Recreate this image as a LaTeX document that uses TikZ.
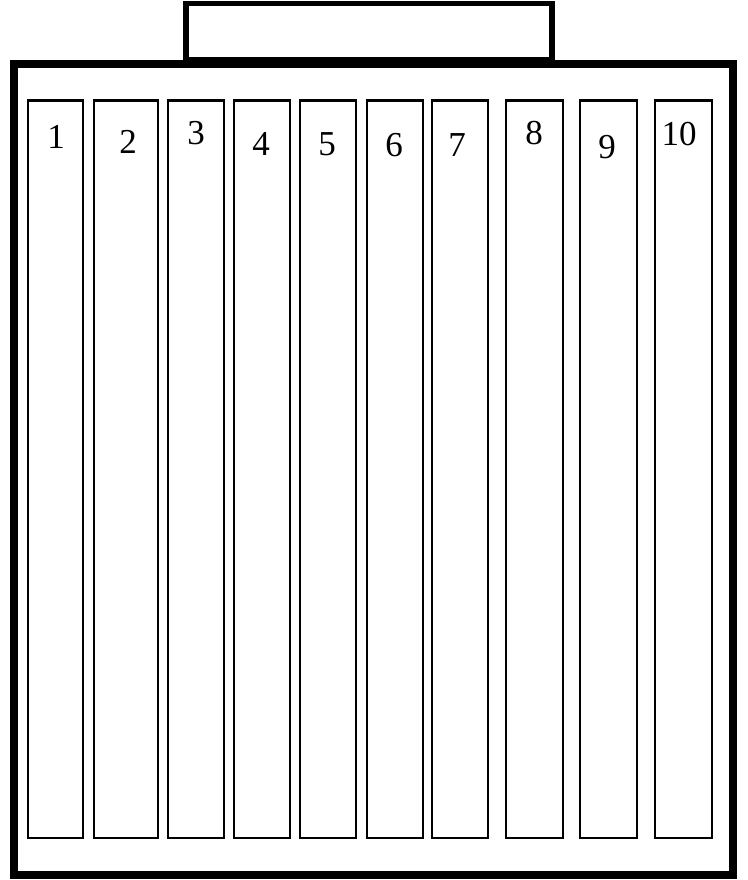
\documentclass[tikz,border=0pt]{standalone}
\usepackage{fontspec}
\setmainfont{Liberation Serif}

\begin{document}
\begin{tikzpicture}[x=1pt,y=-1pt,
  frame/.style={draw=black,line width=8pt},
  tab/.style={draw=black,fill=white,line width=5.5pt},
  slot/.style={draw=black,fill=white,line width=2.2pt},
  num/.style={font=\fontsize{35}{42}\selectfont,inner sep=0pt,anchor=base}]
\useasboundingbox (0,0) rectangle (747,880);
\fill[white] (0,0) rectangle (747,880);

% TAB AND OUTER FRAME
\draw[tab] (186,3.5) rectangle (552,60);
\draw[frame] (14,64) rectangle (733,875);

% SLOTS
\draw[slot] (28,100.5) rectangle (83,838);
\draw[slot] (94,100.5) rectangle (158,838);
\draw[slot] (168,100.5) rectangle (224,838);
\draw[slot] (234,100.5) rectangle (290,838);
\draw[slot] (300,100.5) rectangle (356,838);
\draw[slot] (367,100.5) rectangle (423,838);
\draw[slot] (432,100.5) rectangle (488,838);
\draw[slot] (506,100.5) rectangle (563,838);
\draw[slot] (580,100.5) rectangle (637,838);
\draw[slot] (655,100.5) rectangle (712,838);

% SLOT NUMBERS
\node[num] (n1) at (56,148) {1};
\node[num] (n2) at (128,153) {2};
\node[num] (n3) at (196,144) {3};
\node[num] (n4) at (261,155) {4};
\node[num] (n5) at (327,155) {5};
\node[num] (n6) at (394,157) {6};
\node[num] (n7) at (457,157) {7};
\node[num] (n8) at (534,144) {8};
\node[num] (n9) at (607,158) {9};
\node[num] (n10) at (679,145) {10};
\end{tikzpicture}
\end{document}
